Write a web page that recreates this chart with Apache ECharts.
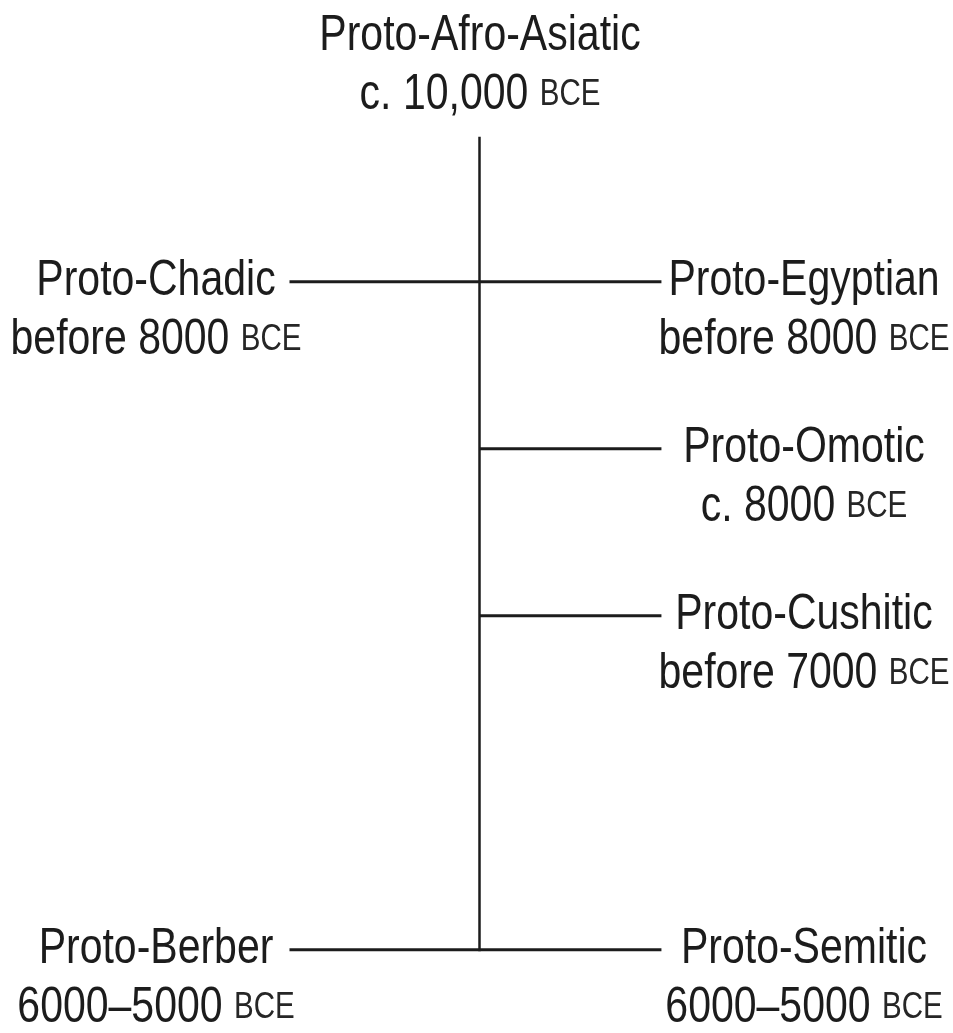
<!DOCTYPE html>
<html><head><meta charset="utf-8">
<script src="https://cdn.jsdelivr.net/npm/echarts@6/dist/echarts.min.js"></script>
<style>html,body{margin:0;padding:0;background:#fff}#c{width:953px;height:1033px}</style>
</head><body><div id="c"></div>
<script>
// ---- data ----
const rootName = 'Proto-Afro-Asiatic';
const rootDate = 'c. 10,000';
const names = ['Proto-Chadic', 'Proto-Egyptian', 'Proto-Omotic', 'Proto-Cushitic', 'Proto-Berber', 'Proto-Semitic'];
const dates = ['before 8000', 'before 8000', 'c. 8000', 'before 7000', '6000\u20135000', '6000\u20135000'];
const era = 'BCE';
const sides = [-1, 1, 1, 1, -1, 1];       // which side of the trunk the branch goes
const splitOrder = [1, 1, 2, 3, 5, 5];    // order of the splits down the trunk
const rootOrder = 0;

// ---- style ----
const FONT = "'Liberation Sans',Arial,sans-serif";
const INK = '#1c1c1c';
const NARROW = 0.82;   // narrow letterforms of the original
const rich = {
  n: { fontSize: 50, lineHeight: 59, fontFamily: FONT, fill: INK },
  s: { fontSize: 36, lineHeight: 59, fontFamily: FONT, fill: '#262626' }
};
const fmt = (n, d) => '{n|' + n + '}\n{n|' + d + ' }{s|' + era + '}';

const lastOrder = Math.max.apply(null, splitOrder);
const labelNames = [rootName].concat(names);
const labelDates = [rootDate].concat(dates);
const labelPts = [[0, rootOrder]].concat(names.map((n, i) => [sides[i], splitOrder[i]]));

const chart = echarts.init(document.getElementById('c'), null, { renderer: 'canvas' });
chart.setOption({
  animation: false,
  backgroundColor: '#fff',
  grid: { left: 0, right: 0, top: 0, bottom: 0 },
  xAxis: { type: 'value', min: -1.4815, max: 1.4599, show: false },
  yAxis: { type: 'value', inverse: true, min: -0.687, max: 5.498, show: false },
  series: [
    { // trunk
      type: 'custom', coordinateSystem: 'cartesian2d',
      encode: { x: 0, y: 1 },
      data: [[0, rootOrder, lastOrder]],
      renderItem: function (params, api) {
        const top = api.coord([0, api.value(1)]);
        const bot = api.coord([0, api.value(2)]);
        return { type: 'line', shape: { x1: top[0] - 0.5, y1: top[1] + 22, x2: top[0] - 0.5, y2: bot[1] + 1.5 },
          style: { stroke: INK, lineWidth: 2.5 } };
      }
    },
    { // branches
      type: 'custom', coordinateSystem: 'cartesian2d',
      encode: { x: 0, y: 1 },
      data: names.map((n, i) => [sides[i], splitOrder[i]]),
      renderItem: function (params, api) {
        const side = api.value(0), row = api.value(1);
        const t = api.coord([0, row]);
        const l = api.coord([side, row]);
        const reach = side < 0 ? 0.588 : 0.56;
        return { type: 'line', shape: { x1: t[0] - 0.5, y1: t[1], x2: t[0] + (l[0] - t[0]) * reach, y2: t[1] },
          style: { stroke: INK, lineWidth: 3 } };
      }
    },
    { // labels
      type: 'custom', coordinateSystem: 'cartesian2d',
      encode: { x: 0, y: 1 },
      data: labelPts,
      renderItem: function (params, api) {
        const i = params.dataIndex;
        const p = api.coord([api.value(0), api.value(1)]);
        const dy = i === 0 ? -49 : 29;
        return {
          type: 'text', x: p[0], y: p[1] + dy, scaleX: NARROW,
          style: { x: 0, y: 0, text: fmt(labelNames[i], labelDates[i]), rich: rich,
            align: 'center', verticalAlign: 'middle', fill: INK, fontFamily: FONT, fontSize: 50 }
        };
      }
    }
  ]
});
</script></body></html>
